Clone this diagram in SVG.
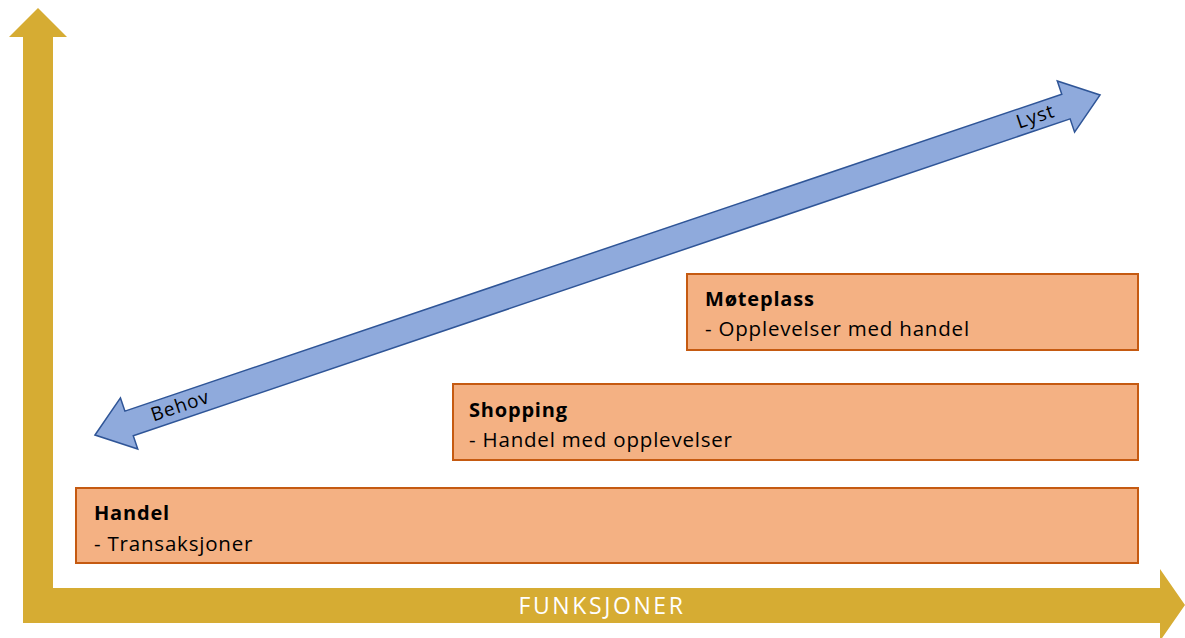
<svg xmlns="http://www.w3.org/2000/svg" width="1185" height="638" viewBox="0 0 1185 638">
  <style>
    .axis { fill: #D6AC33; }
    .box rect { fill: #F4B183; stroke: #C55A11; stroke-width: 2; }
    .title { font-family: "Open Sans", "Liberation Sans", sans-serif; font-size: 20px; font-weight: bold; letter-spacing: 0.8px; fill: #000; }
    .sub { font-family: "Open Sans", "Liberation Sans", sans-serif; font-size: 20.5px; letter-spacing: 0.8px; fill: #000; }
    .scale { fill: #8FAADC; stroke: #2F5597; stroke-width: 1.5; }
    .scale-label { font-family: "Open Sans", "Liberation Sans", sans-serif; font-size: 19px; letter-spacing: 1px; fill: #000; }
    .axis-label { font-family: "Open Sans", "Liberation Sans", sans-serif; font-size: 23px; letter-spacing: 2.6px; fill: #fff; }
  </style>
  <rect width="1185" height="638" fill="#fff"/>

  <g id="axes">
    <!-- axis outline: vertical arrow up, horizontal arrow right -->
    <path class="axis" d="M23,623 L23,37 L9,37 L38,8 L67,37 L53,37 L53,588 L1160,588 L1160,569 L1185,605 L1160,641 L1160,623 Z"/>
    <text class="axis-label" x="602" y="614" text-anchor="middle">FUNKSJONER</text>
  </g>

  <g id="scale">
    <g transform="translate(95,435) rotate(-18.69)">
      <path class="scale" d="M0,0 L36,-27 L36,-13 L1025,-13 L1025,-27 L1061,0 L1025,27 L1025,13 L36,13 L36,27 Z"/>
      <text class="scale-label" x="90" y="6" text-anchor="middle">Behov</text>
      <text class="scale-label" x="993" y="6" text-anchor="middle">Lyst</text>
    </g>
  </g>

  <g id="moteplass" class="box">
    <rect x="687" y="274" width="451" height="76"/>
    <text class="title" x="705" y="306">Møteplass</text>
    <text class="sub" x="705" y="336">- Opplevelser med handel</text>
  </g>

  <g id="shopping" class="box">
    <rect x="453" y="384" width="685" height="76"/>
    <text class="title" x="469" y="417">Shopping</text>
    <text class="sub" x="469" y="447">- Handel med opplevelser</text>
  </g>

  <g id="handel" class="box">
    <rect x="76" y="488" width="1062" height="75"/>
    <text class="title" x="94" y="520">Handel</text>
    <text class="sub" x="94" y="551">- Transaksjoner</text>
  </g>
</svg>
